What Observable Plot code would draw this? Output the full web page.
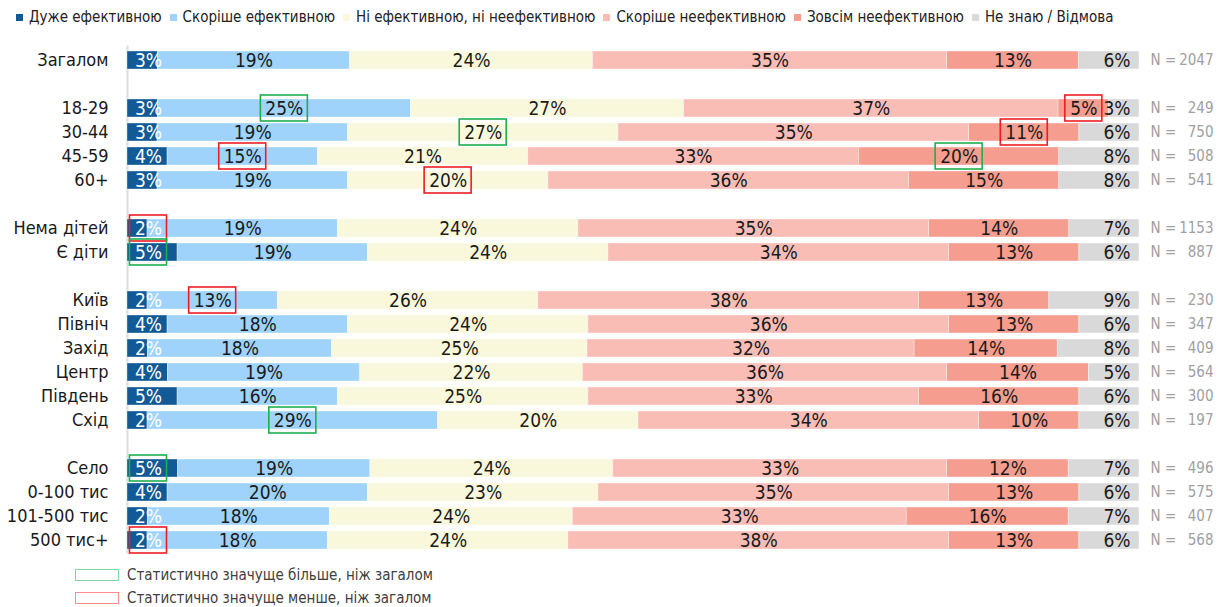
<!DOCTYPE html>
<html>
<head>
<meta charset="utf-8">
<script src="https://cdn.jsdelivr.net/npm/d3@7"></script>
<script src="https://cdn.jsdelivr.net/npm/@observablehq/plot@0.6"></script>
<style>
  html, body { margin: 0; padding: 0; background: #fff; }
  body { width: 1230px; height: 607px; overflow: hidden; font-family: "DejaVu Sans Condensed", "DejaVu Sans", sans-serif; }
  #legend { height: 34px; display: flex; align-items: center; padding-left: 16px; font-size: 15px; color: #222; white-space: nowrap; }
  #legend .item { display: flex; align-items: center; margin-right: 8px; }
  #legend .sw { width: 7px; height: 7px; margin-right: 6px; }
  #chart svg { display: block; }
  #sig { position: relative; height: 51px; font-size: 15px; color: #404040; }
  #sig .row { display: flex; align-items: center; position: absolute; left: 75px; }
  #sig .box { width: 42px; height: 10px; border: 1.5px solid; margin-right: 8px; }
</style>
</head>
<body>
<div id="legend"></div>
<div id="chart"></div>
<div id="sig"></div>
<script>
const categories = ["Загалом","18-29","30-44","45-59","60+","Нема дітей","Є діти","Київ","Північ","Захід","Центр","Південь","Схід","Село","0-100 тис","101-500 тис","500 тис+"];
const groupIds   = [1,2,2,2,2,3,3,4,4,4,4,4,4,5,5,5,5];
const seriesNames = ["Дуже ефективною","Скоріше ефективною","Ні ефективною, ні неефективною","Скоріше неефективною","Зовсім неефективною","Не знаю / Відмова"];
const seriesColors = ["#115a96","#9fd3fb","#faf8da","#f9bdb6","#f59e90","#d9d9d9"];

const veryEff      = [3,3,3,4,3,2,5,2,4,2,4,5,2,5,4,2,2];
const ratherEff    = [19,25,19,15,19,19,19,13,18,18,19,16,29,19,20,18,18];
const neither      = [24,27,27,21,20,24,24,26,24,25,22,25,20,24,23,24,24];
const ratherIneff  = [35,37,35,33,36,35,34,38,36,32,36,33,34,33,35,33,38];
const totallyIneff = [13,5,11,20,15,14,13,13,13,14,14,16,10,12,13,16,13];
const dontKnow     = [6,3,6,8,8,7,6,9,6,8,5,6,6,7,6,7,6];
const sampleN      = [2047,249,750,508,541,1153,887,230,347,409,564,300,197,496,575,407,568];

// significance markers: [category, series index, type]
const sigCats   = ["18-29","18-29","30-44","30-44","45-59","45-59","60+","Нема дітей","Є діти","Київ","Схід","Село","500 тис+"];
const sigSeries = [1,4,2,4,1,4,2,0,0,1,1,0,0];
const sigTypes  = ["more","less","more","less","less","more","less","less","more","less","more","more","less"];
const sigColors = {more: "#1fae4f", less: "#ee1d23"};
const sigLegendColors = {more: "#7fd6a0", less: "#ff8c8c"};
const sigLegendTexts = {more: "Статистично значуще більше, ніж загалом", less: "Статистично значуще менше, ніж загалом"};

const seriesValues = [veryEff, ratherEff, neither, ratherIneff, totallyIneff, dontKnow];

// y domain with spacer rows between groups
const yDomain = [];
categories.forEach((c, i) => {
  if (i > 0 && groupIds[i] !== groupIds[i-1]) yDomain.push(" ".repeat(groupIds[i]));
  yDomain.push(c);
});

const rows = [];
categories.forEach((c, i) => {
  seriesNames.forEach((s, k) => rows.push({cat: c, series: s, k, value: seriesValues[k][i]}));
});

// significance boxes: center of labelled segment in normalized units
const W = 1230, ML = 127, MR = 91;
const plotW = W - ML - MR;
const sigRows = sigCats.map((c, j) => {
  const i = categories.indexOf(c);
  const k = sigSeries[j];
  const total = d3.sum(seriesValues, v => v[i]);
  const before = d3.sum(seriesValues.slice(0, k), v => v[i]);
  const v = seriesValues[k][i];
  const center = k === 0 ? 0 : (before + v / 2) / total;
  const half = (String(v).length === 1 ? 18.5 : 23.5) / plotW;
  return {cat: c, k, type: sigTypes[j], x1: center - half, x2: center + half};
});

const labelFont = 19;
const chart = Plot.plot({
  width: W,
  height: 522,
  marginLeft: ML,
  marginRight: MR,
  marginTop: 11.4,
  marginBottom: 2.4,
  style: {fontFamily: '"DejaVu Sans Condensed", "DejaVu Sans", sans-serif', background: "#fff"},
  x: {axis: null, domain: [0, 1]},
  y: {axis: null, domain: yDomain, paddingInner: 0.25, paddingOuter: 0.125},
  color: {domain: seriesNames, range: seriesColors},
  marks: [
    Plot.ruleX([0], {stroke: "#dcdcdc", strokeWidth: 2}),
    Plot.barX(rows, Plot.stackX({offset: "normalize", x: "value", y: "cat", fill: "series", stroke: "#ffffff", strokeWidth: 0.6, strokeOpacity: 0.6})),
    Plot.text(rows, Plot.stackX({offset: "normalize", x: "value", y: "cat", z: "series",
      text: d => (d.k >= 1 && d.k <= 4) ? d.value + "%" : "", fill: "#1a1a1a", fontSize: labelFont})),
    Plot.text(rows.filter(d => d.k === 0), {x: 0, y: "cat", text: d => d.value + "%", dx: 21, fill: "#ffffff", fontSize: labelFont}),
    Plot.text(rows.filter(d => d.k === 5), {x: 1, y: "cat", text: d => d.value + "%", dx: -9, textAnchor: "end", fill: "#1a1a1a", fontSize: labelFont}),
    Plot.rect(sigRows.filter(d => d.k !== 0), {x1: "x1", x2: "x2", y: "cat", insetTop: -4, insetBottom: -4, fill: "none", stroke: d => sigColors[d.type], strokeWidth: 1.6}),
    Plot.rect(sigRows.filter(d => d.k === 0), {x1: "x1", x2: "x2", y: "cat", dx: 21, insetTop: -4, insetBottom: -4, fill: "none", stroke: d => sigColors[d.type], strokeWidth: 1.6}),
    Plot.text(categories, {x: 0, y: d => d, text: d => d, textAnchor: "end", dx: -19, fontSize: 18, fill: "#1a1a1a"}),
    Plot.text(categories, {x: 1, y: d => d, text: () => "N =", textAnchor: "start", dx: 11, fontSize: 15, fill: "#a0a0a0"}),
    Plot.text(categories, {x: 1, y: d => d, text: (d, i) => String(sampleN[i]), textAnchor: "end", dx: 74, fontSize: 15, fill: "#a0a0a0"})
  ]
});
document.getElementById("chart").appendChild(chart);

// top legend
const leg = document.getElementById("legend");
seriesNames.forEach((s, k) => {
  const it = document.createElement("div");
  it.className = "item";
  const sw = document.createElement("div");
  sw.className = "sw";
  sw.style.background = seriesColors[k];
  const tx = document.createElement("span");
  tx.textContent = s;
  it.appendChild(sw); it.appendChild(tx);
  leg.appendChild(it);
});

// bottom significance legend
const sig = document.getElementById("sig");
["more", "less"].forEach((t, j) => {
  const r = document.createElement("div");
  r.className = "row";
  r.style.top = (j === 0 ? 10 : 33) + "px";
  const b = document.createElement("div");
  b.className = "box";
  b.style.borderColor = sigLegendColors[t];
  const tx = document.createElement("span");
  tx.textContent = sigLegendTexts[t];
  r.appendChild(b); r.appendChild(tx);
  sig.appendChild(r);
});
</script>
</body>
</html>
